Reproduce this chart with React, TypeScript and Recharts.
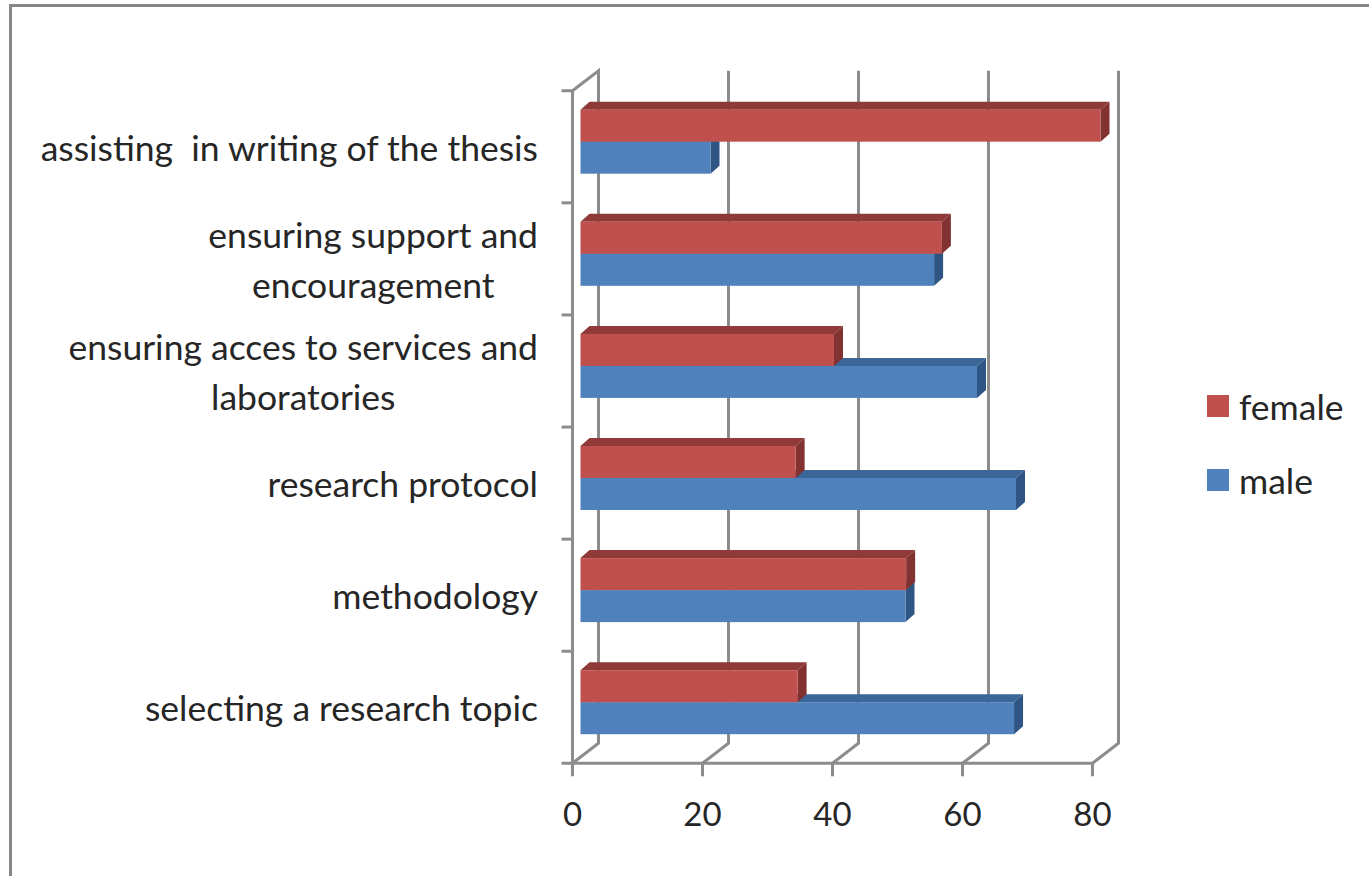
import React from "react";
import { BarChart, Bar, XAxis, YAxis, CartesianGrid, Legend } from "recharts";

const categories = [
  "assisting  in writing of the thesis",
  "ensuring support and encouragement",
  "ensuring acces to services and laboratories",
  "research protocol",
  "methodology",
  "selecting a research topic",
];
const maleValues = [20, 54.4, 61, 67, 50, 66.7];
const femaleValues = [80, 55.6, 39, 33.1, 50.1, 33.4];
const xTicks = [0, 20, 40, 60, 80];
const labelLines: Record<string, string[]> = {
  "ensuring support and encouragement": ["ensuring support and", "encouragement"],
  "ensuring acces to services and laboratories": ["ensuring acces to services and", "laboratories"],
};

const data = categories.map((category, i) => ({
  category,
  male: maleValues[i],
  female: femaleValues[i],
}));

const FONT = "Lato, sans-serif";
const FONT_SIZE = 35.5;
const TICK_FONT_SIZE = 33;
const TEXT = "#262626";
const GREY = "#8c8c8c";
const LINE = 3;
const BACK_DX = 26;
const BACK_DY = -20;
const BAR_DX = 8;
const BAR_DY = -5;
const DEPTH_X = 9;
const DEPTH_Y = 8;
const BAND_HALF = 56;
const LABEL_GAP = 34.5;

function textWidth(s: string) {
  const ctx = document.createElement("canvas").getContext("2d");
  if (!ctx) return s.length * 14;
  ctx.font = `${FONT_SIZE}px ${FONT}`;
  return ctx.measureText(s).width;
}

function makeBarShape(slot: number, topColor: string, sideColor: string) {
  return function BarShape(props: any) {
    const { x, y, width, height, fill } = props;
    const bx = x + BAR_DX;
    const by = y + BAR_DY + slot * height;
    const r = bx + width;
    const b = by + height;
    return (
      <g>
        <polygon
          points={`${bx},${by} ${bx + DEPTH_X},${by - DEPTH_Y} ${r + DEPTH_X},${by - DEPTH_Y} ${r},${by}`}
          fill={topColor}
        />
        <polygon
          points={`${r},${by} ${r + DEPTH_X},${by - DEPTH_Y} ${r + DEPTH_X},${b - DEPTH_Y} ${r},${b}`}
          fill={sideColor}
        />
        <rect x={bx} y={by} width={width} height={height} fill={fill} />
      </g>
    );
  };
}

const MaleShape = makeBarShape(1, "#3B6698", "#2F5584");
const FemaleShape = makeBarShape(-1, "#8F3A38", "#823331");

function WallLine(props: any) {
  const { x1, y1, x2, y2, index } = props;
  const top = Math.min(y1, y2);
  const bottom = Math.max(y1, y2);
  const bx = x1 + BACK_DX;
  const d =
    `M${x1},${bottom} L${bx},${bottom + BACK_DY} L${bx},${top + BACK_DY}` +
    (index === 0 ? ` L${x1},${top}` : "");
  return <path d={d} fill="none" stroke={GREY} strokeWidth={LINE} />;
}

function CategoryTick(props: any) {
  const { x, y, payload, index } = props;
  const lines = labelLines[payload.value] || [payload.value];
  const right = x - LABEL_GAP;
  const first = lines[0];
  const w = textWidth(first);
  const isLast = index === categories.length - 1;
  return (
    <g>
      <line x1={x - 11} x2={x} y1={y - BAND_HALF} y2={y - BAND_HALF} stroke={GREY} strokeWidth={LINE} />
      {isLast && <line x1={x - 11} x2={x} y1={y + BAND_HALF} y2={y + BAND_HALF} stroke={GREY} strokeWidth={LINE} />}
      {lines.length === 1 ? (
        <text
          x={right}
          y={y + 14}
          textAnchor="end"
          fontFamily={FONT}
          fontSize={FONT_SIZE}
          fill={TEXT}
          style={{ whiteSpace: "pre" }}
        >
          {first}
        </text>
      ) : (
        lines.map((line, i) => (
          <text
            key={line}
            x={right - w / 2}
            y={y + 14 + (i - 0.5) * 50}
            textAnchor="middle"
            fontFamily={FONT}
            fontSize={FONT_SIZE}
            fill={TEXT}
          >
            {line}
          </text>
        ))
      )}
    </g>
  );
}

function LegendBox(props: any) {
  const items = [...(props.payload || [])];
  return (
    <div style={{ fontFamily: FONT, fontSize: FONT_SIZE, color: TEXT }}>
      {items.map((item: any) => (
        <div key={item.value} style={{ display: "flex", alignItems: "center", height: 74 }}>
          <span style={{ display: "inline-block", width: 22, height: 22, background: item.color, marginRight: 10 }} />
          <span>{item.value}</span>
        </div>
      ))}
    </div>
  );
}

export default function App() {
  return (
    <div style={{ position: "absolute", left: 0, top: 0, width: 1369, height: 876, overflow: "hidden", background: "#fff" }}>
      <div
        style={{
          position: "absolute",
          left: 9,
          top: 4,
          width: 1360,
          height: 872,
          borderTop: "3.5px solid #868686",
          borderLeft: "3.5px solid #868686",
          boxSizing: "border-box",
        }}
      />
      <BarChart
        width={1369}
        height={876}
        data={data}
        layout="vertical"
        barSize={32}
        barGap={0}
        margin={{ top: 90.7, right: 276.5, bottom: 52.7, left: 0 }}
        style={{ position: "absolute", left: 0, top: 0 }}
      >
        <CartesianGrid horizontal={false} vertical={(p: any) => <WallLine {...p} />} />
        <XAxis
          type="number"
          domain={[0, 80]}
          ticks={xTicks}
          height={60}
          interval={0}
          tickSize={13}
          tickMargin={26}
          axisLine={{ stroke: GREY, strokeWidth: LINE }}
          tickLine={{ stroke: GREY, strokeWidth: LINE }}
          tick={{ fontFamily: FONT, fontSize: TICK_FONT_SIZE, fill: TEXT }}
        />
        <YAxis
          type="category"
          dataKey="category"
          width={572.5}
          interval={0}
          tickLine={false}
          tickSize={0}
          tickMargin={0}
          axisLine={{ stroke: GREY, strokeWidth: LINE }}
          tick={(p: any) => <CategoryTick {...p} />}
        />
        <Bar dataKey="male" name="male" fill="#4F81BD" isAnimationActive={false} shape={MaleShape} />
        <Bar dataKey="female" name="female" fill="#C0504D" isAnimationActive={false} shape={FemaleShape} />
        <Legend
          layout="vertical"
          align="center"
          verticalAlign="middle"
          content={(p: any) => <LegendBox {...p} />}
          wrapperStyle={{ position: "absolute", left: 1207, top: 369, width: 155 }}
        />
      </BarChart>
    </div>
  );
}
